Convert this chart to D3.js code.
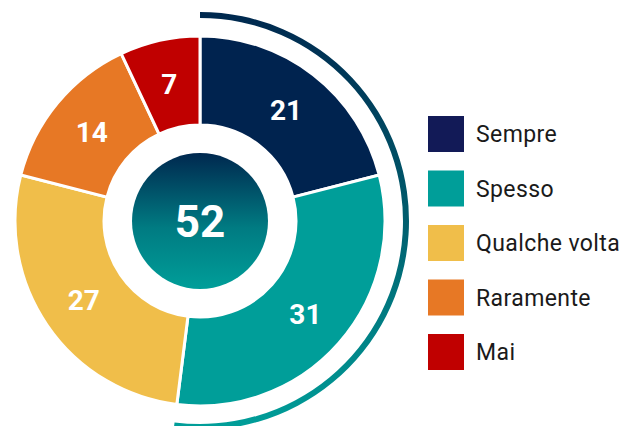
<!DOCTYPE html>
<html>
<head>
<meta charset="utf-8">
<script src="https://cdn.jsdelivr.net/npm/d3@7"></script>
<style>
  body { margin: 0; background: #fff; }
  svg { display: block; font-family: Roboto, "DejaVu Sans", sans-serif; }
</style>
</head>
<body>
<div id="donut"></div>
<script>
// data
var categories = ["Sempre", "Spesso", "Qualche volta", "Raramente", "Mai"];
var values = [21, 31, 27, 14, 7];
var sliceColors = ["#00234f", "#009e99", "#f0be4a", "#e77825", "#c00000"];
var legendColors = ["#121a57", "#009e99", "#f0be4a", "#e77825", "#c00000"];
var highlighted = ["Sempre", "Spesso"];   // summed in the centre

var width = 633, height = 426;
var cx = 200, cy = 221,
    outerR = 185, innerR = 96, coreR = 68, ringR = 206;

var svg = d3.select("#donut").append("svg")
    .attr("width", width)
    .attr("height", height);

var defs = svg.append("defs");
var coreGrad = defs.append("linearGradient")
    .attr("id", "coreGrad").attr("x1", 0).attr("y1", 0).attr("x2", 0).attr("y2", 1);
coreGrad.append("stop").attr("offset", "0%").attr("stop-color", "#00284f");
coreGrad.append("stop").attr("offset", "55%").attr("stop-color", "#007b82");
coreGrad.append("stop").attr("offset", "100%").attr("stop-color", "#009e99");

// ring gradient lives in the centred group's coordinates
var ringGrad = defs.append("linearGradient")
    .attr("id", "ringGrad").attr("gradientUnits", "userSpaceOnUse")
    .attr("x1", 0).attr("y1", -ringR).attr("x2", 0).attr("y2", ringR);
ringGrad.append("stop").attr("offset", "0%").attr("stop-color", "#00294f");
ringGrad.append("stop").attr("offset", "50%").attr("stop-color", "#005e6e");
ringGrad.append("stop").attr("offset", "100%").attr("stop-color", "#009e99");

var g = svg.append("g").attr("transform", "translate(" + cx + "," + cy + ")");

var pie = d3.pie().sort(null).value(function(d) { return d; });
var arcs = pie(values);
var arc = d3.arc().innerRadius(innerR).outerRadius(outerR);
var labelArc = d3.arc().innerRadius((innerR + outerR) / 2).outerRadius((innerR + outerR) / 2);

g.selectAll(".slice")
    .data(arcs)
    .enter().append("path")
    .attr("class", "slice")
    .attr("d", arc)
    .attr("fill", function(d, i) { return sliceColors[i]; })
    .attr("stroke", "#fff")
    .attr("stroke-width", 3)
    .attr("stroke-linejoin", "miter");

g.selectAll(".val")
    .data(arcs)
    .enter().append("text")
    .attr("class", "val")
    .attr("transform", function(d) { return "translate(" + labelArc.centroid(d) + ")"; })
    .attr("text-anchor", "middle")
    .attr("dy", "0.36em")
    .attr("fill", "#fff")
    .style("font-size", "28px")
    .style("font-weight", "700")
    .text(function(d) { return d.value; });

// outer ring over the highlighted categories
var hlArcs = arcs.filter(function(d, i) { return highlighted.indexOf(categories[i]) >= 0; });
var hlStart = d3.min(hlArcs, function(d) { return d.startAngle; });
var hlEnd = d3.max(hlArcs, function(d) { return d.endAngle; });
var hlTotal = d3.sum(hlArcs, function(d) { return d.value; });

g.append("path")
    .attr("d", d3.arc().innerRadius(ringR - 3).outerRadius(ringR + 3)
        .startAngle(hlStart).endAngle(hlEnd)())
    .attr("fill", "url(#ringGrad)");

// centre disc
g.append("circle")
    .attr("r", coreR)
    .attr("fill", "url(#coreGrad)");
g.append("text")
    .attr("text-anchor", "middle")
    .attr("dy", "0.36em")
    .attr("fill", "#fff")
    .style("font-size", "44px")
    .style("font-weight", "700")
    .text(hlTotal);

// legend
var legend = svg.append("g").attr("transform", "translate(428,116)");
var item = legend.selectAll(".item")
    .data(categories)
    .enter().append("g")
    .attr("class", "item")
    .attr("transform", function(d, i) { return "translate(0," + i * 54.5 + ")"; });
item.append("rect")
    .attr("width", 36).attr("height", 36)
    .attr("fill", function(d, i) { return legendColors[i]; });
item.append("text")
    .attr("x", 48).attr("y", 18).attr("dy", "0.36em")
    .attr("fill", "#1a1a1a")
    .style("font-size", "23px")
    .style("letter-spacing", "0.4px")
    .text(function(d) { return d; });
</script>
</body>
</html>
